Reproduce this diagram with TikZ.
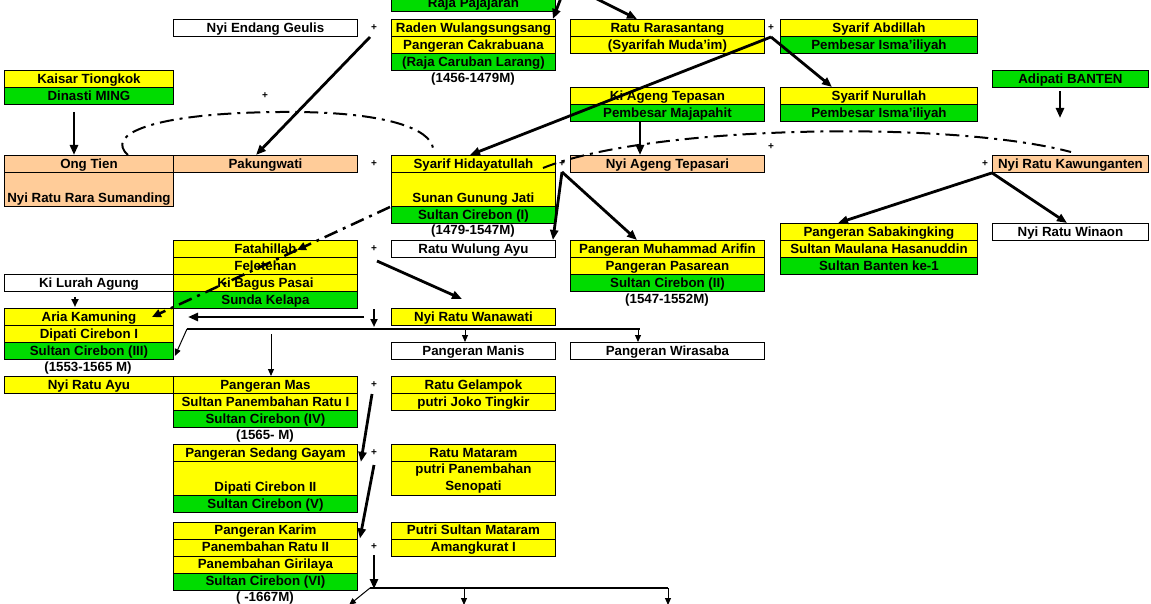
\documentclass[tikz,border=0pt]{standalone}
\usepackage{fontspec}
\setmainfont{Liberation Sans}
\usetikzlibrary{arrows.meta,calc}
\definecolor{yel}{RGB}{255,255,0}
\definecolor{grn}{RGB}{0,220,0}
\definecolor{pch}{RGB}{255,204,153}
\newcommand\cellfnt{\fontsize{13.3}{17}\selectfont\bfseries}
\newcommand\plusfnt{\fontsize{10}{12}\selectfont\bfseries}
\begin{document}
\begin{tikzpicture}[x=1pt,y=-1pt,
 cellbase/.style={draw=black, line width=0.9pt, anchor=north west, inner xsep=0pt, inner ysep=2pt, font=\cellfnt},
 cell/.style={cellbase, text height=11pt, text depth=2pt},
 tall/.style={text height=28pt},
 cA/.style={minimum width=169pt},
 cB/.style={minimum width=184pt},
 cD/.style={minimum width=164pt},
 cF/.style={minimum width=194pt},
 cH/.style={minimum width=197pt},
 cJ/.style={minimum width=156pt},
 yc/.style={fill=yel}, gc/.style={fill=grn}, pc/.style={fill=pch}, wc/.style={fill=white},
 thk/.style={line width=2.8pt, -{Triangle[length=10pt,width=8pt]}},
 thkline/.style={line width=2.8pt},
 thn/.style={line width=1pt, -{Triangle[length=7pt,width=6pt]}},
 dd/.style={line width=2pt, dash pattern=on 14pt off 6pt on 3pt off 6pt},
 plus/.style={font=\plusfnt, inner sep=0pt},
 lab/.style={font=\cellfnt, inner sep=0pt}]
\clip (0,0) rectangle (1151,604);
\fill[white] (0,0) rectangle (1151,604);

% ---- top rows
\node[cell,cD,gc] (rp) at (391,-6) {Raja Pajajaran};
\node[cell,cB,wc] (neg) at (173,19) {Nyi Endang Geulis};
\node[cell,cD,yc] (rw) at (391,19) {Raden Wulangsungsang};
\node[cell,cD,yc] (pcb) at (391,36) {Pangeran Cakrabuana};
\node[cell,cD,gc] (rcl) at (391,53) {(Raja Caruban Larang)};
\node[lab] (d1) at (473,79) {(1456-1479M)};
\node[cell,cF,yc] (rr) at (570,19) {Ratu Rarasantang};
\node[cell,cF,yc] (smi) at (570,36) {(Syarifah Muda'im)};
\node[cell,cH,yc] (sa) at (780,19) {Syarif Abdillah};
\node[cell,cH,gc] (pi1) at (780,36) {Pembesar Isma'iliyah};
\node[cell,cA,yc] (kt) at (4,70) {Kaisar Tiongkok};
\node[cell,cA,gc] (dm) at (4,87) {Dinasti MING};
\node[cell,cJ,gc] (ab) at (992,70) {Adipati BANTEN};
\node[cell,cF,yc] (kat) at (570,87) {Ki Ageng Tepasan};
\node[cell,cF,gc] (pm) at (570,104) {Pembesar Majapahit};
\node[cell,cH,yc] (sn) at (780,87) {Syarif Nurullah};
\node[cell,cH,gc] (pi2) at (780,104) {Pembesar Isma'iliyah};

% ---- generation of Sunan Gunung Jati
\node[cell,cA,pc] (ot) at (4,155) {Ong Tien};
\node[cell,cA,pc,tall] (nrs) at (4,172) {Nyi Ratu Rara Sumanding};
\node[cell,cB,pc] (pk) at (173,155) {Pakungwati};
\node[cell,cD,yc] (sh) at (391,155) {Syarif Hidayatullah};
\node[cell,cD,yc,tall] (sgj) at (391,172) {Sunan Gunung Jati};
\node[cell,cD,gc] (sc1) at (391,206) {Sultan Cirebon (I)};
\node[lab] (d2) at (473,231) {(1479-1547M)};
\node[cell,cF,pc] (nat) at (570,155) {Nyi Ageng Tepasari};
\node[cell,cJ,pc] (nrk) at (992,155) {Nyi Ratu Kawunganten};

% ---- next generation
\node[cell,cH,yc] (ps) at (780,223) {Pangeran Sabakingking};
\node[cell,cH,yc] (smh) at (780,240) {Sultan Maulana Hasanuddin};
\node[cell,cH,gc] (sb1) at (780,257) {Sultan Banten ke-1};
\node[cell,cJ,wc] (nrw) at (992,223) {Nyi Ratu Winaon};
\node[cell,cB,yc] (fh) at (173,240) {Fatahillah};
\node[cell,cB,yc] (fl) at (173,257) {Feletehan};
\node[cell,cB,yc] (kbp) at (173,274) {Ki Bagus Pasai};
\node[cell,cB,gc] (sk) at (173,291) {Sunda Kelapa};
\node[cell,cD,wc] (rwa) at (391,240) {Ratu Wulung Ayu};
\node[cell,cF,yc] (pma) at (570,240) {Pangeran Muhammad Arifin};
\node[cell,cF,yc] (pp) at (570,257) {Pangeran Pasarean};
\node[cell,cF,gc] (sc2) at (570,274) {Sultan Cirebon (II)};
\node[lab] (d3) at (667,300) {(1547-1552M)};
\node[cell,cA,wc] (kla) at (4,274) {Ki Lurah Agung};
\node[cell,cA,yc] (ak) at (4,308) {Aria Kamuning};
\node[cell,cA,yc] (dc1) at (4,325) {Dipati Cirebon I};
\node[cell,cA,gc] (sc3) at (4,342) {Sultan Cirebon (III)};
\node[lab] (d4) at (88,368) {(1553-1565 M)};
\node[cell,cD,yc] (nrwa) at (391,308) {Nyi Ratu Wanawati};
\node[cell,cD,wc] (pmn) at (391,342) {Pangeran Manis};
\node[cell,cF,wc] (pw) at (570,342) {Pangeran Wirasaba};

% ---- lower generations
\node[cell,cA,yc] (nra) at (4,376) {Nyi Ratu Ayu};
\node[cell,cB,yc] (pmas) at (173,376) {Pangeran Mas};
\node[cell,cB,yc] (spr) at (173,393) {Sultan Panembahan Ratu I};
\node[cell,cB,gc] (sc4) at (173,410) {Sultan Cirebon (IV)};
\node[lab] (d5) at (265,436) {(1565- M)};
\node[cell,cD,yc] (rg) at (391,376) {Ratu Gelampok};
\node[cell,cD,yc] (pjt) at (391,393) {putri Joko Tingkir};
\node[cell,cB,yc] (psg) at (173,444) {Pangeran Sedang Gayam};
\node[cell,cB,yc,tall] (dc2) at (173,461) {Dipati Cirebon II};
\node[cell,cB,gc] (sc5) at (173,495) {Sultan Cirebon (V)};
\node[cell,cD,yc] (rm) at (391,444) {Ratu Mataram};
\node[cellbase,cD,yc,minimum height=34pt,align=center] (pps) at (391,461) {putri Panembahan\\Senopati};
\node[cell,cB,yc] (pkr) at (173,521.5) {Pangeran Karim};
\node[cell,cB,yc] (pr2) at (173,538.5) {Panembahan Ratu II};
\node[cell,cB,yc] (pgl) at (173,555.5) {Panembahan Girilaya};
\node[cell,cB,gc] (sc6) at (173,572.5) {Sultan Cirebon (VI)};
\node[lab] (d6) at (265,598) {( -1667M)};
\node[cell,cD,yc] (psm) at (391,521.5) {Putri Sultan Mataram};
\node[cell,cD,yc] (am) at (391,538.5) {Amangkurat I};

% ---- plus signs
\node[plus] (s1) at (374,28) {+};
\node[plus] (s2) at (771,28) {+};
\node[plus] (s3) at (265,96) {+};
\node[plus] (s4) at (374,164) {+};
\node[plus] (s5) at (562,164) {+};
\node[plus] (s6) at (771,147) {+};
\node[plus] (s7) at (985,164) {+};
\node[plus] (s8) at (374,249) {+};
\node[plus] (s9) at (374,385) {+};
\node[plus] (s10) at (374,453) {+};
\node[plus] (s11) at (374,547) {+};

% ---- coordinates for free ends
\coordinate (t1) at (564,-10);
\coordinate (t2) at (579,-10);
\coordinate (p1) at (370,37);
\coordinate (p2) at (771,37);
\coordinate (q7) at (1060,118);
\coordinate (p3) at (562,172);
\coordinate (p4) at (377,261);
\coordinate (q15) at (462,299);
\coordinate (p5) at (364,317);
\coordinate (q16) at (188,317);
\coordinate (p6) at (374,309);
\coordinate (q17) at (374,327);
\coordinate (b1) at (187,329);
\coordinate (b2) at (640,329);
\coordinate (b3) at (465,329);
\coordinate (b4) at (638,329);
\coordinate (b5) at (271,334);
\coordinate (p7) at (372,394);
\coordinate (p8) at (374,465);
\coordinate (p9) at (374,555);
\coordinate (c1) at (374,589);
\coordinate (c0) at (370,588);
\coordinate (c2) at (668,588);
\coordinate (c3) at (464,588);
\coordinate (e1) at (464,605);
\coordinate (e2) at (668,605);
\coordinate (e3) at (349,605);
\coordinate (a1s) at (128,155);
\coordinate (a1e) at (433,148);
\coordinate (a2s) at (543,168);
\coordinate (a2e) at (1071,152);
\coordinate (l1s) at (390,207);
\coordinate (l1m) at (297,250);
\coordinate (l1e) at (152,317);

% ---- connectors
\draw[thk] (t1) -- ($(rw.north east)+(-3,0)$);
\draw[thk] (t2) -- ($(rr.north west)+(67,0)$);
\draw[thk] (p2) -- ($(sn.north west)+(52,0)$);
\draw[thk] (p2) -- ($(sh.north west)+(79,0)$);
\draw[thk] (p1) -- ($(pk.north west)+(83,0)$);
\draw[thk] ($(dm.south west)+(70,7)$) -- ($(ot.north west)+(70,0)$);
\draw[thk] ($(ab.south west)+(68,3)$) -- (q7);
\draw[thk] ($(pm.south west)+(70,0)$) -- ($(nat.north west)+(70,0)$);
\draw[line width=2pt, -{Triangle[length=8pt,width=7pt]}] ($(kla.south west)+(71,5)$) -- ($(ak.north west)+(71,-1)$);
\draw[thk] (p3) -- ($(rwa.north east)+(-3,0)$);
\draw[thk] (p3) -- ($(pma.north west)+(67,0)$);
\draw[thk] (nrk.south west) -- ($(ps.north west)+(58,0)$);
\draw[thk] (nrk.south west) -- ($(nrw.north west)+(75,0)$);
\draw[thk] (p4) -- (q15);
\draw[thk] (p5) -- (q16);
\draw[line width=2pt, -{Triangle[length=8pt,width=7pt]}] (p6) -- (q17);
\draw[thkline] (b1) -- (b2);
\draw[thn] (b3) -- (pmn.north -| b3);
\draw[thn] (b4) -- (pw.north -| b4);
\draw[thn] (b5) -- (pmas.north -| b5);
\draw[thn] (b1) -- ($(sc3.east)+(1,5)$);
\draw[thk] (p7) -- ($(psg.south east)+(3,0)$);
\draw[thk] (p8) -- ($(pr2.north east)+(2,0)$);
\draw[thk] (p9) -- (c1);
\draw[thkline] (c0) -- (c2);
\draw[thn] (c3) -- (e1);
\draw[thn] (c2) -- (e2);
\draw[thn] (c0) -- (e3);

% ---- dash-dot links
\draw[dd] (a1s) .. controls (105,135) and (150,113) .. (280,112) .. controls (390,111) and (430,130) .. (a1e);
\draw[dd] (a2s) .. controls (650,125) and (950,120) .. (a2e);
\draw[dd, line width=2.5pt, -{Triangle[length=9pt,width=8pt]}] (l1s) -- (l1m);
\draw[dd, line width=2.5pt, -{Triangle[length=9pt,width=8pt]}] (l1m) -- (l1e);
\end{tikzpicture}
\end{document}
